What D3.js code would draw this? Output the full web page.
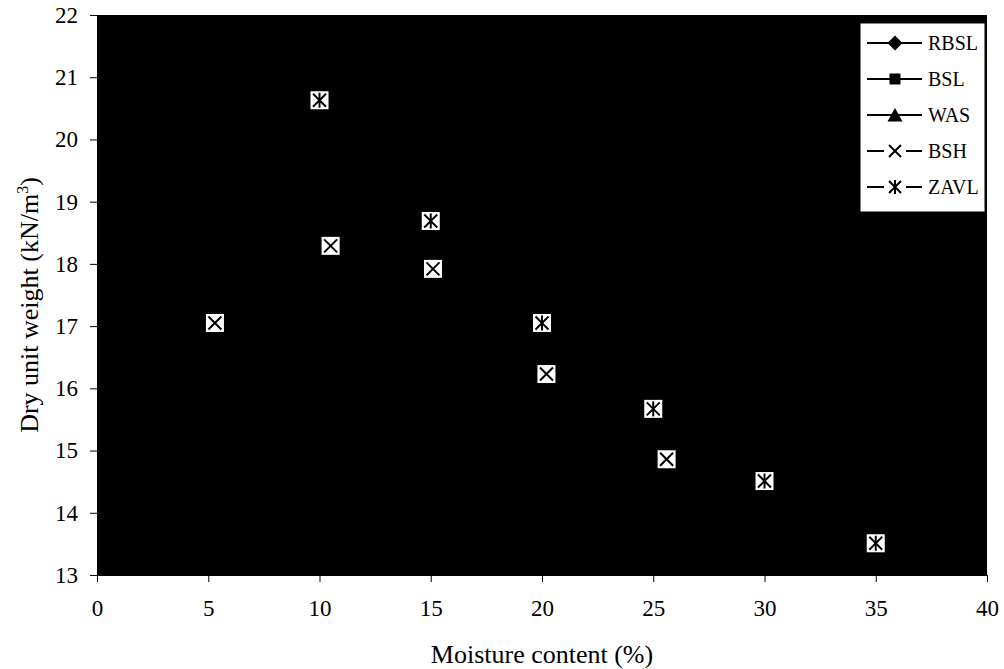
<!DOCTYPE html>
<html>
<head>
<meta charset="utf-8">
<script src="https://cdn.jsdelivr.net/npm/d3@7"></script>
<style>
  html, body { margin: 0; padding: 0; background: #fff; }
  svg { display: block; }
  text { font-family: "Liberation Serif", "Times New Roman", serif; fill: #000; }
</style>
</head>
<body>
<svg id="chart" width="1004" height="669"></svg>
<script>
// Compaction data: moisture content (%) vs dry unit weight (kN/m3)
const bshMoisture = [5.3, 10.5, 15.1, 20.2, 25.6];
const bshDensity  = [17.05, 18.29, 17.92, 16.23, 14.86];

const zavlMoisture = [10, 15, 20, 25, 30, 35];
const zavlDensity  = [20.63, 18.69, 17.05, 15.67, 14.51, 13.51];

const legendNames  = ["RBSL", "BSL", "WAS", "BSH", "ZAVL"];
const legendShapes = ["diamond", "square", "triangle", "x", "asterisk"];

const xTicks = [0, 5, 10, 15, 20, 25, 30, 35, 40];
const yTicks = [13, 14, 15, 16, 17, 18, 19, 20, 21, 22];

const svg = d3.select("#chart");
const plot = { left: 97, right: 987, top: 15, bottom: 575 };

const x = d3.scaleLinear().domain([0, 40]).range([plot.left, plot.right]);
const y = d3.scaleLinear().domain([13, 22]).range([plot.bottom, plot.top]);

// plot area
svg.append("rect")
  .attr("x", plot.left).attr("y", plot.top)
  .attr("width", plot.right - plot.left).attr("height", plot.bottom - plot.top)
  .attr("fill", "#000");

// axes
const xAxis = svg.append("g")
  .attr("transform", `translate(0,${plot.bottom})`)
  .call(d3.axisBottom(x).tickValues(xTicks).tickSize(7).tickPadding(18).tickFormat(d3.format("d")));
const yAxis = svg.append("g")
  .attr("transform", `translate(${plot.left},0)`)
  .call(d3.axisLeft(y).tickValues(yTicks).tickSize(7).tickPadding(12).tickFormat(d3.format("d")));

[xAxis, yAxis].forEach(g => {
  g.select(".domain").attr("stroke", "#000").attr("stroke-width", 1);
  g.selectAll(".tick line").attr("stroke", "#000").attr("stroke-width", 1);
  g.selectAll(".tick text")
    .style("font-family", '"Liberation Serif", "Times New Roman", serif')
    .style("font-size", "23px").attr("fill", "#000");
});

// axis titles
svg.append("text")
  .attr("x", (plot.left + plot.right) / 2)
  .attr("y", 663)
  .attr("text-anchor", "middle")
  .style("font-size", "26px")
  .text("Moisture content (%)");

const yTitle = svg.append("text")
  .attr("transform", `translate(38,${(plot.top + plot.bottom) / 2 + 10}) rotate(-90)`)
  .attr("text-anchor", "middle")
  .style("font-size", "26px");
yTitle.append("tspan").text("Dry unit weight (kN/m");
yTitle.append("tspan").attr("dy", -10).style("font-size", "16px").text("3");
yTitle.append("tspan").attr("dy", 10).text(")");

// marker drawing: white box with black glyph
function glyph(g, shape, s, boxed) {
  if (boxed) {
    g.append("rect").attr("x", -9).attr("y", -9).attr("width", 18).attr("height", 18).attr("fill", "#fff");
  }
  const line = (x1, y1, x2, y2) => g.append("line")
    .attr("x1", x1).attr("y1", y1).attr("x2", x2).attr("y2", y2)
    .attr("stroke", "#000").attr("stroke-width", 2);
  if (shape === "x" || shape === "asterisk") {
    line(-s, -s, s, s);
    line(-s, s, s, -s);
    if (shape === "asterisk") line(0, -s - 1, 0, s + 1);
  } else if (shape === "diamond") {
    g.append("path").attr("d", "M0,-7.5L7.5,0L0,7.5L-7.5,0Z").attr("fill", "#000");
  } else if (shape === "square") {
    g.append("rect").attr("x", -5.5).attr("y", -5.5).attr("width", 11).attr("height", 11).attr("fill", "#000");
  } else if (shape === "triangle") {
    g.append("path").attr("d", "M0,-7L7.5,6.5L-7.5,6.5Z").attr("fill", "#000");
  }
}

// series markers
const bsh = bshMoisture.map((m, i) => ({ m, d: bshDensity[i] }));
const zavl = zavlMoisture.map((m, i) => ({ m, d: zavlDensity[i] }));

svg.append("g").selectAll("g").data(bsh).join("g")
  .attr("transform", p => `translate(${x(p.m)},${y(p.d)})`)
  .each(function () { glyph(d3.select(this), "x", 6.5, true); });

svg.append("g").selectAll("g").data(zavl).join("g")
  .attr("transform", p => `translate(${x(p.m)},${y(p.d)})`)
  .each(function () { glyph(d3.select(this), "asterisk", 6.5, true); });

// legend
const lg = svg.append("g");
lg.append("rect")
  .attr("x", 860).attr("y", 23).attr("width", 125).attr("height", 189)
  .attr("fill", "#fff").attr("stroke", "#000").attr("stroke-width", 1);

legendNames.forEach((name, i) => {
  const cy = 43 + i * 36;
  const shape = legendShapes[i];
  const row = lg.append("g").attr("transform", `translate(0,${cy})`);
  const seg = (a, b) => row.append("line").attr("x1", a).attr("x2", b).attr("y1", 0).attr("y2", 0)
    .attr("stroke", "#000").attr("stroke-width", 2);
  if (shape === "x" || shape === "asterisk") {
    seg(867, 884);
    seg(906, 922);
  } else {
    seg(867, 922);
  }
  const m = row.append("g").attr("transform", "translate(895,0)");
  glyph(m, shape, 6, false);
  row.append("text").attr("x", 928).attr("y", 0).attr("dy", "0.35em")
    .style("font-size", "20px").text(name);
});
</script>
</body>
</html>
